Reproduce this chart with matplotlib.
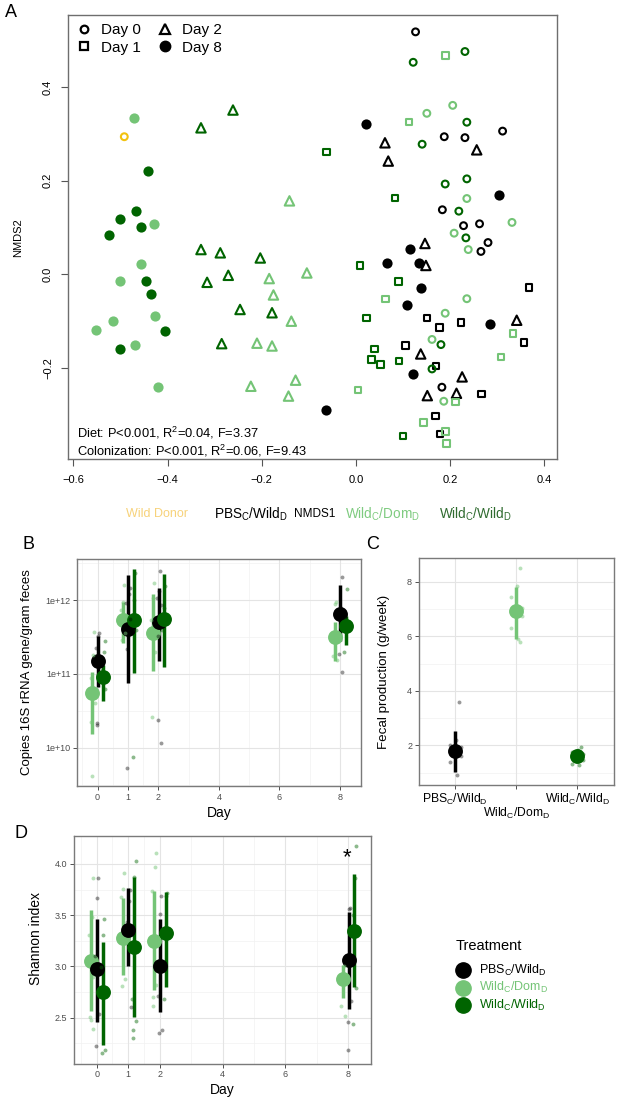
import numpy as np
import matplotlib.pyplot as plt
from matplotlib.lines import Line2D
from matplotlib import transforms

plt.rcParams['font.family'] = ['Liberation Sans', 'DejaVu Sans']
plt.rcParams['mathtext.fontset'] = 'custom'
plt.rcParams['mathtext.rm'] = 'Liberation Sans'
plt.rcParams['mathtext.it'] = 'Liberation Sans:italic'
plt.rcParams['mathtext.bf'] = 'Liberation Sans:bold'

BLACK = '#000000'
LIGHT = '#74c476'
DARK = '#006400'
GOLD = '#f2c20f'

LBL_PBS = r'PBS$_{\rm C}$/Wild$_{\rm D}$'
LBL_DOM = r'Wild$_{\rm C}$/Dom$_{\rm D}$'
LBL_WILD = r'Wild$_{\rm C}$/Wild$_{\rm D}$'

# ---------------- panel A: NMDS coordinates ----------------
donor_nmds1 = [-0.492]
donor_nmds2 = [0.294]

pbs_day = [0] * 10 + [1] * 10 + [2] * 10 + [8] * 10
pbs_nmds1 = [0.127, 0.312, 0.188, 0.232, 0.184, 0.263, 0.229, 0.281, 0.266, 0.183,
             0.368, 0.151, 0.224, 0.178, 0.358, 0.106, 0.170, 0.267, 0.169, 0.179,
             0.062, 0.257, 0.069, 0.147, 0.149, 0.342, 0.138, 0.226, 0.152, 0.214,
             0.022, 0.305, 0.116, 0.067, 0.134, 0.138, 0.109, 0.285, 0.121, -0.063]
pbs_nmds2 = [0.518, 0.306, 0.294, 0.292, 0.138, 0.108, 0.104, 0.068, 0.049, -0.241,
             -0.028, -0.093, -0.103, -0.114, -0.145, -0.152, -0.196, -0.256, -0.303, -0.341,
             0.281, 0.266, 0.242, 0.066, 0.019, -0.098, -0.170, -0.219, -0.259, -0.254,
             0.321, 0.169, 0.054, 0.024, 0.025, -0.030, -0.066, -0.105, -0.212, -0.290]

dom_day = [0] * 10 + [1] * 10 + [2] * 10 + [8] * 9
dom_nmds1 = [0.206, 0.151, 0.236, 0.332, 0.209, 0.239, 0.236, 0.190, 0.162, 0.187,
             0.191, 0.113, 0.063, 0.334, 0.309, 0.005, 0.212, 0.144, 0.191, 0.193,
             -0.141, -0.184, -0.104, -0.175, -0.137, -0.210, -0.178, -0.223, -0.128, -0.143,
             -0.472, -0.428, -0.457, -0.501, -0.426, -0.516, -0.552, -0.470, -0.420]
dom_nmds2 = [0.361, 0.344, 0.162, 0.111, 0.088, 0.053, -0.052, -0.083, -0.139, -0.271,
             0.468, 0.325, -0.053, -0.126, -0.176, -0.247, -0.273, -0.316, -0.336, -0.361,
             0.157, -0.009, 0.003, -0.044, -0.100, -0.147, -0.153, -0.239, -0.226, -0.260,
             0.334, 0.107, 0.023, -0.015, -0.088, -0.100, -0.118, -0.150, -0.241]

wild_day = [0] * 10 + [1] * 10 + [2] * 10 + [8] * 9
wild_nmds1 = [0.122, 0.232, 0.236, 0.141, 0.236, 0.190, 0.219, 0.234, 0.181, 0.162,
              -0.062, 0.083, 0.009, 0.091, 0.023, 0.040, 0.033, 0.053, 0.092, 0.100,
              -0.261, -0.329, -0.329, -0.288, -0.203, -0.271, -0.316, -0.246, -0.178, -0.285,
              -0.441, -0.467, -0.502, -0.456, -0.524, -0.446, -0.435, -0.405, -0.502]
wild_nmds2 = [0.453, 0.476, 0.325, 0.278, 0.204, 0.193, 0.135, 0.078, -0.150, -0.202,
              0.261, 0.163, 0.019, -0.015, -0.093, -0.159, -0.182, -0.192, -0.185, -0.345,
              0.351, 0.313, 0.053, 0.046, 0.035, -0.002, -0.017, -0.075, -0.082, -0.148,
              0.221, 0.136, 0.119, 0.102, 0.085, -0.014, -0.042, -0.122, -0.160]

# ---------------- panel B: 16S copies (log10) ----------------
days = [0, 1, 2, 8]
b_mean_pbs = [11.17, 11.61, 11.70, 11.81]
b_lo_pbs = [10.83, 10.88, 11.18, 11.45]
b_hi_pbs = [11.52, 12.34, 12.17, 12.21]
b_mean_dom = [10.74, 11.73, 11.56, 11.50]
b_lo_dom = [10.19, 11.42, 11.04, 11.17]
b_hi_dom = [11.03, 11.98, 12.09, 11.71]
b_mean_wild = [10.96, 11.73, 11.74, 11.65]
b_lo_wild = [10.63, 11.02, 11.10, 11.39]
b_hi_wild = [11.12, 12.42, 12.36, 11.78]
b_pts_pbs = [[11.56, 11.51, 11.35, 11.20, 10.33, 10.31],
             [12.16, 12.09, 11.96, 11.75, 11.34, 9.72],
             [12.40, 12.12, 12.03, 11.94, 11.51, 10.37, 10.07],
             [12.32, 11.90, 11.27, 11.03]]
b_pts_dom = [[11.57, 11.26, 10.95, 10.60, 10.35, 9.62],
             [12.21, 11.97, 11.87, 11.56, 11.46],
             [12.24, 12.03, 11.73, 11.30, 10.42],
             [11.98, 11.95, 11.25, 11.19]]
b_pts_wild = [[11.45, 11.30, 11.05, 10.80],
              [12.37, 12.00, 11.80, 11.60, 9.87],
              [12.20, 11.90, 11.60],
              [12.15, 11.75, 11.30]]

# ---------------- panel C: fecal production ----------------
c_groups = [LBL_PBS, LBL_DOM, LBL_WILD]
c_mean = [1.80, 6.93, 1.62]
c_lo = [1.03, 5.90, 1.42]
c_hi = [2.54, 7.82, 1.84]
c_pts = [[3.60, 2.20, 2.02, 1.95, 1.85, 1.75, 1.62, 1.38, 0.92],
         [8.52, 7.84, 7.45, 7.05, 6.95, 6.85, 6.75, 6.31, 5.89, 5.80],
         [1.92, 1.82, 1.75, 1.68, 1.60, 1.55, 1.45, 1.30, 1.28]]

# ---------------- panel D: Shannon index ----------------
d_mean_pbs = [2.97, 3.36, 3.00, 3.06]
d_lo_pbs = [2.46, 3.00, 2.55, 2.58]
d_hi_pbs = [3.46, 3.77, 3.46, 3.53]
d_mean_dom = [3.05, 3.28, 3.25, 2.88]
d_lo_dom = [2.56, 2.92, 2.77, 2.69]
d_hi_dom = [3.55, 3.67, 3.74, 3.01]
d_mean_wild = [2.75, 3.19, 3.33, 3.35]
d_lo_wild = [2.23, 2.51, 2.80, 2.80]
d_hi_wild = [3.24, 3.87, 3.73, 3.90]
d_pts_pbs = [[3.86, 3.67, 3.10, 2.54, 2.22],
             [3.75, 3.64, 3.43, 2.60],
             [3.69, 3.51, 2.71, 2.38, 2.35],
             [3.57, 3.56, 3.06, 2.66, 2.46, 2.18]]
d_pts_dom = [[3.86, 3.48, 3.31, 2.90, 2.51, 2.48, 2.39],
             [3.91, 3.76, 3.68, 2.88, 2.81],
             [4.11, 3.97, 3.74, 2.82, 2.70, 2.61],
             [3.00, 2.92, 2.61, 2.52]]
d_pts_wild = [[3.46, 3.31, 2.99, 2.18, 2.15],
              [4.03, 3.87, 2.68, 2.47, 2.38, 2.30],
              [3.72, 3.69, 2.68],
              [4.18, 3.86, 3.50, 2.79, 2.44]]

W, H = 617, 1097
fig = plt.figure(figsize=(W / 100, H / 100), dpi=100)


def add_axes_px(left, top, right, bottom):
    return fig.add_axes([left / W, 1 - bottom / H, (right - left) / W, (bottom - top) / H])


# ================= panel A =================
ax_a = add_axes_px(68.3, 15, 556.7, 459.3)
day_marker = {0: ('o', 24, False), 1: ('s', 22, False), 2: ('^', 46, False), 8: ('o', 54, True)}


def nmds_scatter(xs, ys, ds, color):
    xs, ys, ds = np.array(xs), np.array(ys), np.array(ds)
    for d, (m, s, filled) in day_marker.items():
        sel = ds == d
        if filled:
            ax_a.scatter(xs[sel], ys[sel], s=s, marker=m, color=color, linewidths=0, zorder=3)
        else:
            ax_a.scatter(xs[sel], ys[sel], s=s, marker=m, facecolors='none',
                         edgecolors=color, linewidths=1.5, zorder=3)


nmds_scatter(pbs_nmds1, pbs_nmds2, pbs_day, BLACK)
nmds_scatter(dom_nmds1, dom_nmds2, dom_day, LIGHT)
nmds_scatter(wild_nmds1, wild_nmds2, wild_day, DARK)
ax_a.scatter(donor_nmds1, donor_nmds2, s=24, marker='o', facecolors='none',
             edgecolors=GOLD, linewidths=1.5, zorder=3)

ax_a.set_xlim(-0.611, 0.427)
ax_a.set_ylim(-0.395, 0.554)
ax_a.set_xticks([-0.6, -0.4, -0.2, 0.0, 0.2, 0.4])
ax_a.set_xticklabels(['\u22120.6', '\u22120.4', '\u22120.2', '0.0', '0.2', '0.4'])
ax_a.set_yticks([-0.2, 0.0, 0.2, 0.4])
ax_a.set_yticklabels(['\u22120.2', '0.0', '0.2', '0.4'])
ax_a.tick_params(length=5, width=0.8, color='#555555', labelsize=8, pad=6)
for lab in ax_a.get_yticklabels():
    lab.set_rotation(90)
    lab.set_va('center')
for s in ax_a.spines.values():
    s.set_color('#6e6e6e')
    s.set_linewidth(1.0)
ax_a.set_ylabel('NMDS2', fontsize=8)
ax_a.yaxis.set_label_coords(-0.093, 0.5)

leg_handles = [
    Line2D([], [], ls='', marker='o', ms=5.5, mfc='none', mec=BLACK, mew=1.6),
    Line2D([], [], ls='', marker='s', ms=5.5, mfc='none', mec=BLACK, mew=1.6),
    Line2D([], [], ls='', marker='^', ms=7, mfc='none', mec=BLACK, mew=1.6),
    Line2D([], [], ls='', marker='o', ms=7.5, color=BLACK),
]
ax_a.legend(leg_handles, ['Day 0', 'Day 1', 'Day 2', 'Day 8'], ncol=2, loc='upper left',
            frameon=False, fontsize=11, handlelength=1.0, handletextpad=0.6,
            columnspacing=1.1, labelspacing=0.22, borderaxespad=0.15)

ax_a.text(0.018, 0.06, r'Diet: P<0.001, R$^{\rm 2}$=0.04, F=3.37', transform=ax_a.transAxes,
          fontsize=9.3, va='center')
ax_a.text(0.018, 0.02, r'Colonization: P<0.001, R$^{\rm 2}$=0.06, F=9.43',
          transform=ax_a.transAxes, fontsize=9.3, va='center')

row_y = 1 - 514 / H
fig.text(157 / W, row_y, 'Wild Donor', color='#f7d27a', fontsize=9, ha='center', va='center')
fig.text(251 / W, row_y, LBL_PBS, color=BLACK, fontsize=9.8, ha='center', va='center')
fig.text(315 / W, row_y, 'NMDS1', color=BLACK, fontsize=8.5, ha='center', va='center')
fig.text(382 / W, row_y, LBL_DOM, color='#7fcb80', fontsize=9.8, ha='center', va='center')
fig.text(475 / W, row_y, LBL_WILD, color='#2f6b2f', fontsize=9.8, ha='center', va='center')


# ================= ggplot-like panels =================
def gg_style(ax, xmaj, xmin, ymaj, ymin):
    for v in xmin:
        ax.axvline(v, color='#f1f1f1', lw=0.5, zorder=0)
    for v in ymin:
        ax.axhline(v, color='#f1f1f1', lw=0.5, zorder=0)
    for v in xmaj:
        ax.axvline(v, color='#e4e4e4', lw=0.8, zorder=0)
    for v in ymaj:
        ax.axhline(v, color='#e4e4e4', lw=0.8, zorder=0)
    for s in ax.spines.values():
        s.set_color('#7a7a7a')
        s.set_linewidth(1.0)
    ax.tick_params(length=2.75, width=0.6, color='#333333', labelsize=6.5,
                   labelcolor='#4d4d4d', pad=2)
    ax.minorticks_off()


def jitter(n, width):
    return width * np.sin(np.arange(n) * 2.3 + 0.7)


def draw_groups(ax, means, los, his, pts, xpos, color, pt_alpha, log):
    tf = (lambda v: 10 ** np.asarray(v, dtype=float)) if log else (lambda v: np.asarray(v, dtype=float))
    for x, lo, hi in zip(xpos, los, his):
        ax.plot([x, x], tf([lo, hi]), color=color, lw=2.5, solid_capstyle='butt', zorder=3)
    ax.scatter(xpos, tf(means), s=115, color=color, linewidths=0, zorder=4)
    for x, vals in zip(xpos, pts):
        ax.scatter(x + jitter(len(vals), 0.07), tf(vals), s=8, color=color,
                   alpha=pt_alpha, linewidths=0, zorder=5)


offsets = {'dom': -0.17, 'pbs': 0.01, 'wild': 0.19}
xd = np.array(days, dtype=float)

# ---- panel B ----
ax_b = add_axes_px(77.3, 559, 360.7, 786)
ax_b.set_yscale('log')
gg_style(ax_b, [0, 1, 2, 4, 6, 8], [-0.5, 0.5, 1.5, 3, 5, 7],
         [1e10, 1e11, 1e12], [10 ** 9.5, 10 ** 10.5, 10 ** 11.5, 10 ** 12.5])
draw_groups(ax_b, b_mean_dom, b_lo_dom, b_hi_dom, b_pts_dom, xd + offsets['dom'], LIGHT, 0.5, True)
draw_groups(ax_b, b_mean_pbs, b_lo_pbs, b_hi_pbs, b_pts_pbs, xd + offsets['pbs'], BLACK, 0.4, True)
draw_groups(ax_b, b_mean_wild, b_lo_wild, b_hi_wild, b_pts_wild, xd + offsets['wild'], DARK, 0.45, True)
ax_b.set_xlim(-0.67, 8.68)
ax_b.set_ylim(10 ** 9.48, 10 ** 12.56)
ax_b.set_xticks([0, 1, 2, 4, 6, 8])
ax_b.set_yticks([1e10, 1e11, 1e12])
ax_b.set_yticklabels(['1e+10', '1e+11', '1e+12'])
ax_b.minorticks_off()
ax_b.set_xlabel('Day', fontsize=10, labelpad=3)
ax_b.set_ylabel('Copies 16S rRNA gene/gram feces', fontsize=9.5)
ax_b.yaxis.set_label_coords(-0.155, 0.5)

# ---- panel C ----
ax_c = add_axes_px(418.7, 558.3, 614, 785)
gg_style(ax_c, [1, 2, 3], [], [2, 4, 6, 8], [1, 3, 5, 7])
cx = np.arange(1, 4)
c_colors = [BLACK, LIGHT, DARK]
c_alpha = [0.4, 0.5, 0.45]
for i in range(3):
    ax_c.scatter(cx[i] + jitter(len(c_pts[i]), 0.1), c_pts[i], s=8, color=c_colors[i],
                 alpha=c_alpha[i], linewidths=0, zorder=5)
    ax_c.plot([cx[i], cx[i]], [c_lo[i], c_hi[i]], color=c_colors[i], lw=2.5,
              solid_capstyle='butt', zorder=3)
    ax_c.scatter([cx[i]], [c_mean[i]], s=115, color=c_colors[i], linewidths=0, zorder=4)
ax_c.set_xlim(0.4, 3.6)
ax_c.set_ylim(0.544, 8.86)
ax_c.set_yticks([2, 4, 6, 8])
ax_c.set_xticks([1, 2, 3])
ax_c.set_xticklabels([c_groups[0], '', c_groups[2]], fontsize=8.7, color=BLACK)
ax_c.tick_params(axis='x', labelcolor=BLACK, labelsize=8.7)
ax_c.text(2, -0.125, c_groups[1], fontsize=8.7, ha='center', va='center',
          transform=transforms.blended_transform_factory(ax_c.transData, ax_c.transAxes))
ax_c.set_ylabel('Fecal production (g/week)', fontsize=9.6)
ax_c.yaxis.set_label_coords(-0.145, 0.5)

# ---- panel D ----
ax_d = add_axes_px(74, 836, 370.7, 1063.7)
gg_style(ax_d, [0, 1, 2, 4, 6, 8], [-0.5, 0.5, 1.5, 3, 5, 7],
         [2.5, 3.0, 3.5, 4.0], [2.25, 2.75, 3.25, 3.75])
draw_groups(ax_d, d_mean_dom, d_lo_dom, d_hi_dom, d_pts_dom, xd + offsets['dom'], LIGHT, 0.5, False)
draw_groups(ax_d, d_mean_pbs, d_lo_pbs, d_hi_pbs, d_pts_pbs, xd + offsets['pbs'], BLACK, 0.4, False)
draw_groups(ax_d, d_mean_wild, d_lo_wild, d_hi_wild, d_pts_wild, xd + offsets['wild'], DARK, 0.45, False)
ax_d.set_xlim(-0.72, 8.71)
ax_d.set_ylim(2.05, 4.273)
ax_d.set_xticks([0, 1, 2, 4, 6, 8])
ax_d.set_yticks([2.5, 3.0, 3.5, 4.0])
ax_d.set_yticklabels(['2.5', '3.0', '3.5', '4.0'])
ax_d.set_xlabel('Day', fontsize=10, labelpad=3)
ax_d.set_ylabel('Shannon index', fontsize=10)
ax_d.yaxis.set_label_coords(-0.105, 0.55)
ax_d.text(7.95, 4.01, '*', fontsize=16, ha='center', va='baseline', color=BLACK)

# treatment legend
fig.text(456 / W, 1 - 946 / H, 'Treatment', fontsize=10.5, va='center', ha='left')
for i, (col, lab) in enumerate(zip((BLACK, LIGHT, DARK), (LBL_PBS, LBL_DOM, LBL_WILD))):
    y = 1 - (970 + 17.5 * i) / H
    fig.add_artist(Line2D([463 / W], [y], ls='', marker='o', ms=11, color=col,
                          transform=fig.transFigure))
    fig.text(479 / W, y, lab, fontsize=9, color=col, va='center', ha='left')

# panel letters
fig.text(5 / W, 1 - 4 / H, 'A', fontsize=13, va='top')
fig.text(22 / W, 1 - 536 / H, 'B', fontsize=13, va='top')
fig.text(366 / W, 1 - 536 / H, 'C', fontsize=13, va='top')
fig.text(15 / W, 1 - 825 / H, 'D', fontsize=13, va='top')

fig.savefig('out.png', dpi=100)
